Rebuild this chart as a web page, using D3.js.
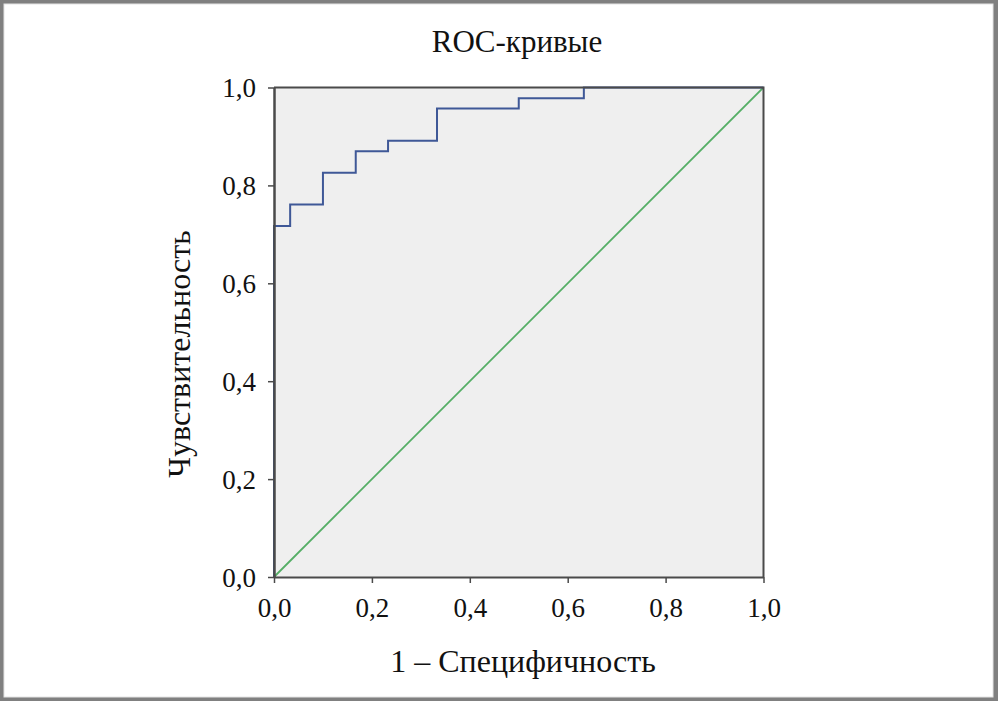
<!DOCTYPE html>
<meta charset="utf-8">
<style>
body { margin: 0; background: #fff; }
svg { display: block; }
.title, .label { font-family: "Liberation Serif", "Times New Roman", serif; fill: #111; }
.title { font-size: 31px; }
.label { font-size: 32px; }
</style>
<svg width="998" height="701"></svg>
<script src="https://d3js.org/d3.v7.min.js"></script>
<script>

// ROC curve steps (1 - specificity, sensitivity)
var fpr  = [0, 0,     0.033, 0.033, 0.100, 0.100, 0.167, 0.167, 0.233, 0.233, 0.333, 0.333, 0.500, 0.500, 0.633, 0.633, 1.0];
var sens = [0, 0.717, 0.717, 0.761, 0.761, 0.826, 0.826, 0.870, 0.870, 0.891, 0.891, 0.957, 0.957, 0.978, 0.978, 1.0,   1.0];
var refLine = [0, 1];
var ticks = [0, 0.2, 0.4, 0.6, 0.8, 1.0];

var svg = d3.select("svg"),
    W = +svg.attr("width"),
    H = +svg.attr("height");

// outer gray frame
svg.append("rect").attr("x", 0).attr("y", 0).attr("width", W).attr("height", H).attr("fill", "#808080");
svg.append("rect").attr("x", 4).attr("y", 4).attr("width", W - 9).attr("height", H - 8)
    .attr("fill", "#fff").attr("stroke", "#e4e4e4").attr("stroke-width", 1);

var plotLeft = 274, plotTop = 87.5, plotSize = 489.5;

var x = d3.scaleLinear().domain([0, 1]).range([plotLeft, plotLeft + plotSize]);
var y = d3.scaleLinear().domain([0, 1]).range([plotTop + plotSize, plotTop]);

var fmt = function(d) { return d3.format(".1f")(d).replace(".", ","); };

svg.append("rect")
    .attr("x", x(0)).attr("y", y(1))
    .attr("width", x(1) - x(0)).attr("height", y(0) - y(1))
    .attr("fill", "#efefef");

// diagonal reference
svg.append("line")
    .attr("x1", x(refLine[0])).attr("y1", y(refLine[0]))
    .attr("x2", x(refLine[1])).attr("y2", y(refLine[1]))
    .attr("stroke", "#55ae66").attr("stroke-width", 1.8);

var pts = fpr.map(function(d, i) { return [d, sens[i]]; });
svg.append("path")
    .datum(pts)
    .attr("fill", "none")
    .attr("stroke", "#3f5897")
    .attr("stroke-width", 2)
    .attr("d", d3.line().x(function(d) { return x(d[0]); }).y(function(d) { return y(d[1]); }));

// frame top/right
svg.append("path")
    .attr("d", "M" + x(0) + "," + y(1) + "H" + x(1) + "V" + y(0))
    .attr("fill", "none").attr("stroke", "#4a4a4a").attr("stroke-width", 2);

function styleAxis(g, w) {
  g.select(".domain").attr("stroke", "#4a4a4a").attr("stroke-width", w);
  g.selectAll(".tick line").attr("stroke", "#4a4a4a").attr("stroke-width", 1.5);
  g.selectAll("text")
      .style("font-family", '"Liberation Serif", "Times New Roman", serif')
      .style("font-size", "27px")
      .attr("fill", "#111");
}

var xAxis = svg.append("g")
    .attr("transform", "translate(0," + y(0) + ")")
    .call(d3.axisBottom(x).tickValues(ticks).tickFormat(fmt).tickSize(6).tickSizeOuter(0).tickPadding(15));
styleAxis(xAxis, 2);

var yAxis = svg.append("g")
    .attr("transform", "translate(" + x(0) + ",0)")
    .call(d3.axisLeft(y).tickValues(ticks).tickFormat(fmt).tickSize(6).tickSizeOuter(0).tickPadding(12));
styleAxis(yAxis, 2.5);
yAxis.selectAll("text").attr("dy", "0.34em");

svg.append("text").attr("class", "title")
    .attr("x", 517).attr("y", 52)
    .attr("text-anchor", "middle")
    .text("ROC-кривые");

svg.append("text").attr("class", "label")
    .attr("x", 523).attr("y", 672)
    .attr("text-anchor", "middle")
    .text("1 – Специфичность");

svg.append("text").attr("class", "label")
    .attr("transform", "translate(190,354) rotate(-90)")
    .attr("text-anchor", "middle")
    .text("Чувствительность");

</script>
